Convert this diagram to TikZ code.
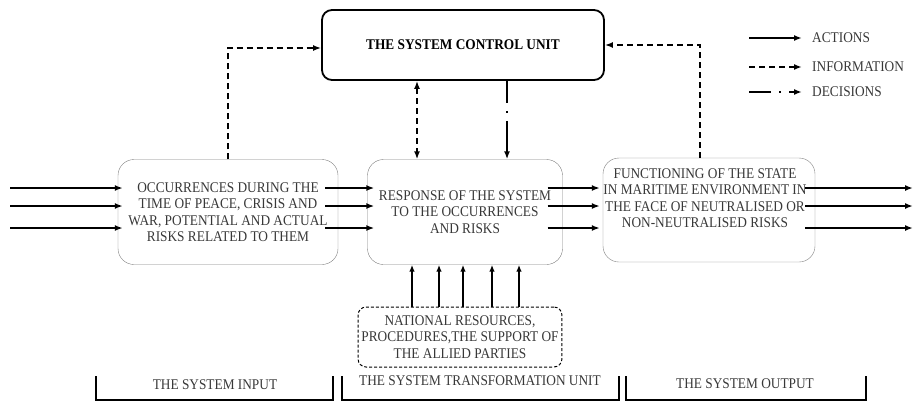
\documentclass[tikz,border=0pt]{standalone}
\usepackage{fontspec}
\setmainfont{Liberation Serif}[FakeStretch=0.9]
\usetikzlibrary{arrows.meta}
\begin{document}
\begin{tikzpicture}[x=1pt,y=-1pt,>={Latex[length=8pt,width=6pt]},
  font=\fontsize{14.8}{16.5}\selectfont,text=black!78,
  box/.style={draw=gray,rounded corners=16pt,align=center},
  act/.style={->,line width=2.3pt},
  feed/.style={->,line width=1.8pt,>={Latex[length=7pt,width=5.5pt]}},
  info/.style={->,line width=1.7pt,dash pattern=on 6pt off 4pt},
  dec/.style={->,line width=2.3pt,dash pattern=on 22pt off 8pt on 2pt off 8pt on 40pt off 8pt}]
\useasboundingbox (0,0) rectangle (916,402);

\node[draw,line width=1.8pt,rounded corners=10pt,minimum width=282pt,minimum height=70pt,
  text=black,font=\bfseries\fontsize{14.8}{16.5}\selectfont] (ctrl) at (463,45) {THE SYSTEM CONTROL UNIT};
\node[box,minimum width=220pt,minimum height=105pt] (in) at (228,212)
  {OCCURRENCES DURING THE\\TIME OF PEACE, CRISIS AND\\WAR, POTENTIAL AND ACTUAL\\RISKS RELATED TO THEM};
\node[box,minimum width=195pt,minimum height=105pt] (tr) at (465,212)
  {RESPONSE OF THE SYSTEM\\TO THE OCCURRENCES\\AND RISKS};
\node[box,minimum width=212pt,minimum height=104pt] (out) at (709,210) {};
\node[align=center] (outtxt) at (705,198)
  {FUNCTIONING OF THE STATE\\IN MARITIME ENVIRONMENT IN\\THE FACE OF NEUTRALISED OR\\NON-NEUTRALISED RISKS};
\node[draw,line width=1pt,dash pattern=on 3pt off 2pt,rounded corners=8pt,minimum width=185pt,
  minimum height=60pt,align=center] (res) at (460,337)
  {NATIONAL RESOURCES,\\PROCEDURES,THE SUPPORT OF\\THE ALLIED PARTIES};

\foreach \y [count=\i] in {188,206,228} {
  \coordinate (src\i) at (10,\y);
  \coordinate (snk\i) at (913,\y);
  \draw[act] (src\i) -- ([xshift=5pt]src\i -| in.west);
  \draw[act] ([xshift=-13pt]src\i -| in.east) -- ([xshift=7pt]src\i -| tr.west);
  \draw[act] ([xshift=-15pt]src\i -| tr.east) -- ([xshift=-3pt]src\i -| out.west);
  \draw[act] ([xshift=-10pt]src\i -| out.east) -- (snk\i);
}
\foreach \dx in {-48,-21,3,32,59}
  \draw[feed] ([xshift=\dx pt]res.north) -- ([xshift=\dx pt]res.north |- tr.south);

\draw[info] (in.north) |- ([yshift=-3pt]ctrl.west);
\draw[info] ([xshift=-9pt]out.north) |- (ctrl.east);
\draw[info,<->] ([xshift=-46pt]ctrl.south) -- ([xshift=-46pt]ctrl.south |- tr.north);
\draw[dec] ([xshift=44pt]ctrl.south) -- ([xshift=44pt]ctrl.south |- tr.north);

\node[anchor=west,inner sep=0] (lact) at (812,38) {ACTIONS};
\node[anchor=west,inner sep=0] (linf) at (812,67) {INFORMATION};
\node[anchor=west,inner sep=0] (ldec) at (812,92) {DECISIONS};
\draw[act] ([xshift=-63pt]lact.west) -- ([xshift=-10pt]lact.west);
\draw[info] ([xshift=-63pt]linf.west) -- ([xshift=-10pt]linf.west);
\draw[dec] ([xshift=-63pt]ldec.west) -- ([xshift=-10pt]ldec.west);

\foreach \a/\b in {96/333,342/619,626/866}
  \draw[line width=1.5pt] (\a,376) |- (\b,400) -- (\b,376);
\node (lin) at (215,385) {THE SYSTEM INPUT};
\node (ltr) at (480,381) {THE SYSTEM TRANSFORMATION UNIT};
\node (lout) at (745,384) {THE SYSTEM OUTPUT};
\end{tikzpicture}
\end{document}
